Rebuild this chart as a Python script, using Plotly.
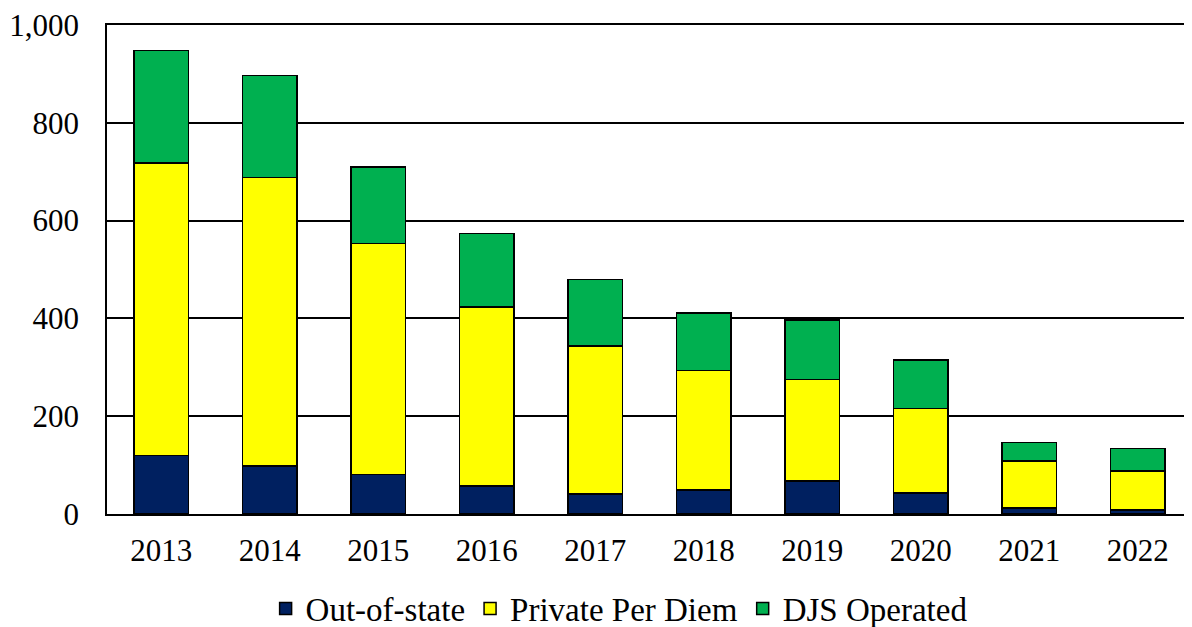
import plotly.graph_objects as go

years = ["2013", "2014", "2015", "2016", "2017", "2018", "2019", "2020", "2021", "2022"]
out_of_state = [120, 98, 81, 57, 41, 49, 67, 43, 12, 8]
private_per_diem = [598, 590, 472, 366, 303, 244, 208, 173, 96, 80]
djs_operated = [230, 209, 157, 151, 136, 118, 122, 99, 38, 46]
y_ticks = [0, 200, 400, 600, 800, 1000]
y_tick_labels = ["0", "200", "400", "600", "800", "1,000"]

font_family = "Times New Roman"

fig = go.Figure()
for name, vals, color in [
    ("Out-of-state", out_of_state, "#002060"),
    ("Private Per Diem", private_per_diem, "#FFFF00"),
    ("DJS Operated", djs_operated, "#00B050"),
]:
    fig.add_trace(go.Bar(
        x=years, y=vals, name=name,
        marker=dict(color=color, line=dict(color="black", width=1.5)),
    ))

fig.update_layout(
    barmode="stack",
    bargap=0.5,
    width=1184, height=619,
    margin=dict(l=99, r=0, t=14, b=113),
    plot_bgcolor="white",
    paper_bgcolor="white",
    font=dict(family=font_family, size=31, color="black"),
    legend=dict(
        orientation="h", x=0.472, xanchor="center",
        yref="container", y=0.03, yanchor="middle",
        font=dict(family=font_family, size=33), traceorder="normal",
        itemwidth=30,
    ),
    xaxis=dict(
        showline=True, linecolor="black", linewidth=2, mirror=True,
        tickfont=dict(family=font_family, size=31), ticks="", ticklen=0,
        ticklabelstandoff=8,
    ),
    yaxis=dict(
        range=[0, 1000], tickvals=y_ticks, ticktext=y_tick_labels,
        showgrid=True, gridcolor="black", gridwidth=1.5,
        showline=True, linecolor="black", linewidth=1.5,
        ticks="", tickfont=dict(family=font_family, size=31), ticklabelstandoff=20,
        ticklabeloverflow="allow",
        zeroline=False,
    ),
)

fig.write_html("out.html")
